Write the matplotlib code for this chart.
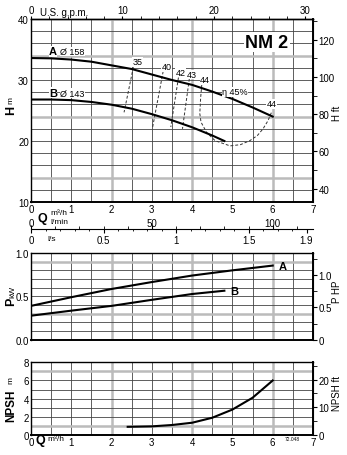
import numpy as np
import matplotlib
matplotlib.use("Agg")
import matplotlib.pyplot as plt
from matplotlib.ticker import MultipleLocator, FixedLocator, NullFormatter

plt.rcParams['font.family'] = ['Liberation Sans', 'DejaVu Sans']
plt.rcParams['font.size'] = 7

# head curves (Q m3/h, H m)
qa = [0, 0.5, 1, 1.5, 2, 2.5, 3, 3.5, 4, 4.5, 5, 5.5, 6]
ha = [33.6, 33.55, 33.35, 33.0, 32.4, 31.8, 30.9, 30.0, 29.2, 28.1, 26.9, 25.5, 24.0]
qb = [0, 0.5, 1, 1.5, 2, 2.5, 3, 3.5, 4, 4.5, 4.8]
hb = [26.8, 26.8, 26.7, 26.4, 25.95, 25.3, 24.4, 23.4, 22.25, 20.9, 20.0]

# efficiency iso-lines
eff_labels = ['35', '40', '42', '43']
eff_q = [[2.54, 2.31], [3.28, 3.02], [3.66, 3.47], [3.93, 3.76]]
eff_h = [[32.1, 24.7], [31.4, 22.3], [30.4, 22.3], [30.2, 22.0]]
eff_lab_q = [2.65, 3.37, 3.72, 3.99]
eff_lab_h = [33.0, 32.2, 31.3, 30.9]
loop_q = [4.24, 4.21, 4.19, 4.22, 4.36, 4.57, 4.94, 5.2, 5.43, 5.62, 5.76, 5.88, 5.97]
loop_h = [29.3, 27.0, 24.5, 23.1, 21.4, 20.05, 19.2, 19.4, 20.05, 20.9, 22.0, 23.3, 24.7]

# power curves (kW)
qpa = [0, 1, 2, 3, 4, 5, 6]
pa = [0.39, 0.49, 0.585, 0.665, 0.74, 0.80, 0.855]
qpb = [0, 1, 2, 3, 4, 4.8]
pb = [0.277, 0.335, 0.39, 0.46, 0.527, 0.565]

# NPSH curve
qn = [2.4, 3, 3.5, 4, 4.5, 5, 5.5, 6]
npsh = [0.9, 0.95, 1.1, 1.35, 1.9, 2.8, 4.1, 6.0]

W, H = 347, 456
fig = plt.figure(figsize=(W / 100, H / 100), dpi=100)


def box(left, top, right, bottom):
    return [left / W, 1 - bottom / H, (right - left) / W, (bottom - top) / H]


grid_c = '#444444'
accent = '#bbbbbb'


def setup(ax, ylim, ystep, yacc):
    ax.set_xlim(0, 7)
    ax.set_ylim(*ylim)
    for q in np.arange(0.5, 7, 0.5):
        if q in (2, 4, 6):
            ax.axvline(q, color=accent, lw=1.8, zorder=1)
        else:
            ax.axvline(q, color=grid_c, lw=0.6, zorder=1)
    for y in np.arange(ylim[0] + ystep, ylim[1] - 1e-9, ystep):
        if any(abs(y - a) < 1e-6 for a in yacc):
            ax.axhline(y, color=accent, lw=1.8, zorder=1)
        else:
            ax.axhline(y, color=grid_c, lw=0.6, zorder=1)
    for s in ax.spines.values():
        s.set_linewidth(1.0)
    ax.spines['right'].set_linewidth(1.4)
    ax.spines['bottom'].set_linewidth(1.4)
    ax.tick_params(axis='both', length=0, pad=1.5, labelsize=7)


# --- head ---
ax1 = fig.add_axes(box(31, 20, 313, 203))
setup(ax1, (10, 40), 2, [14, 24, 34])
ax1.set_yticks([10, 20, 30, 40])
ax1.set_xticks(range(8))
ax1.plot(qa, ha, color='black', lw=1.5, zorder=3)
ax1.plot(qb, hb, color='black', lw=1.5, zorder=3)
for lab, q, h, lq, lh in zip(eff_labels, eff_q, eff_h, eff_lab_q, eff_lab_h):
    ax1.plot(q, h, color='#333333', lw=0.7, ls=(0, (3, 2)), zorder=2)
    ax1.text(lq, lh, lab, fontsize=6.5, ha='center', va='center', zorder=4,
             bbox=dict(fc='white', ec='none', pad=0.3))
ax1.plot(loop_q, loop_h, color='#333333', lw=0.7, ls=(0, (3, 2)), zorder=2)
ax1.text(4.32, 30.05, '44', fontsize=6.5, ha='center', va='center', zorder=4,
         bbox=dict(fc='white', ec='none', pad=0.3))
ax1.text(5.97, 26.1, '44', fontsize=6.5, ha='center', va='center', zorder=4,
         bbox=dict(fc='white', ec='none', pad=0.3))
ax1.plot([5.0, 5.03], [26.9, 27.6], color='#333333', lw=0.7, zorder=2)
ax1.text(5.06, 28.1, 'η 45%', fontsize=6.5, ha='center', va='center', zorder=4,
         bbox=dict(fc='white', ec='none', pad=0.3))
ax1.text(0.55, 33.9, 'A', fontsize=8, fontweight='bold', ha='center', va='bottom', zorder=4,
         bbox=dict(fc='white', ec='none', pad=0.2))
ax1.text(0.72, 33.9, 'Ø 158', fontsize=6.5, ha='left', va='bottom', zorder=4,
         bbox=dict(fc='white', ec='none', pad=0.2))
ax1.text(0.55, 27.1, 'B', fontsize=8, fontweight='bold', ha='center', va='bottom', zorder=4,
         bbox=dict(fc='white', ec='none', pad=0.2))
ax1.text(0.72, 27.1, 'Ø 143', fontsize=6.5, ha='left', va='bottom', zorder=4,
         bbox=dict(fc='white', ec='none', pad=0.2))
ax1.text(5.85, 36.2, 'NM 2', fontsize=13, fontweight='bold', ha='center', va='center', zorder=4,
         bbox=dict(fc='white', ec='none', pad=1))

gpm = ax1.secondary_xaxis('top', functions=(lambda q: q * 4.403, lambda g: g / 4.403))
gpm.set_xticks([0, 10, 20, 30])
gpm.xaxis.set_minor_locator(MultipleLocator(2))
gpm.tick_params(which='major', length=2, pad=1, labelsize=7)
gpm.tick_params(which='minor', length=2)
gpm.spines['top'].set_linewidth(1.0)

hft = ax1.secondary_yaxis('right', functions=(lambda m: m * 3.2808, lambda f: f / 3.2808))
hft.set_yticks([40, 60, 80, 100, 120])
hft.yaxis.set_minor_locator(MultipleLocator(10))
hft.tick_params(which='major', length=3, pad=1, labelsize=7)
hft.tick_params(which='minor', length=3)

fig.text(40 / W, 1 - 12.5 / H, 'U.S. g.p.m.', fontsize=7, ha='left', va='center')
fig.text(11 / W, 1 - 110 / H, 'H', fontsize=9, fontweight='bold', rotation=90, ha='center', va='center')
fig.text(11 / W, 1 - 100 / H, 'm', fontsize=6, rotation=90, ha='center', va='center')
fig.text(337 / W, 1 - 113 / H, 'H ft', fontsize=7, rotation=90, ha='center', va='center')

# Q axis labels under head plot
fig.text(42 / W, 1 - 219 / H, 'Q', fontsize=9, fontweight='bold', ha='center', va='center')
fig.text(50 / W, 1 - 213.5 / H, 'm³/h', fontsize=6, ha='left', va='center')
fig.text(50 / W, 1 - 222 / H, 'l/min', fontsize=6, ha='left', va='center')

# l/min and l/s scale
axf = fig.add_axes(box(31, 229, 313, 230))
axf.set_xlim(0, 7)
axf.set_ylim(0, 1)
axf.patch.set_visible(False)
for s in ['top', 'left', 'right']:
    axf.spines[s].set_visible(False)
axf.spines['bottom'].set_linewidth(0.8)
axf.set_yticks([])
ls_major = [0, 0.5, 1, 1.5, 1.9]
axf.set_xticks([v * 3.6 for v in ls_major])
axf.set_xticklabels(['0', '0.5', '1', '1.5', '1.9'])
axf.xaxis.set_minor_locator(FixedLocator([v * 3.6 for v in np.arange(0.1, 1.9, 0.1)]))
axf.tick_params(which='major', length=3, pad=1, labelsize=7)
axf.tick_params(which='minor', length=1.5)
lmin = axf.secondary_xaxis('bottom', functions=(lambda q: q * 1000 / 60, lambda l: l * 60 / 1000))
lmin.set_xticks([0, 50, 100])
lmin.xaxis.set_minor_locator(MultipleLocator(10))
lmin.tick_params(which='major', direction='in', length=3, pad=-8, labelsize=7)
lmin.tick_params(which='minor', direction='in', length=2)
lmin.spines['bottom'].set_visible(False)
fig.text(47 / W, 1 - 240 / H, 'l/s', fontsize=6, ha='left', va='center')

# --- power ---
ax2 = fig.add_axes(box(31, 254, 313, 340.7))
setup(ax2, (0, 1.0), 0.1, [0.3, 0.9])
ax2.set_yticks([0, 0.5, 1.0])
ax2.set_yticklabels(['0.0', '0.5', '1.0'])
ax2.set_xticks(range(8))
ax2.set_xticklabels([])
ax2.plot(qpa, pa, color='black', lw=1.5, zorder=3)
ax2.plot(qpb, pb, color='black', lw=1.5, zorder=3)
ax2.text(6.15, 0.855, 'A', fontsize=8, fontweight='bold', ha='left', va='center')
ax2.text(4.95, 0.565, 'B', fontsize=8, fontweight='bold', ha='left', va='center')
php = ax2.secondary_yaxis('right', functions=(lambda k: k / 0.7457, lambda h: h * 0.7457))
php.set_yticks([0, 0.5, 1.0])
php.set_yticklabels(['0', '0.5', '1.0'])
php.yaxis.set_minor_locator(MultipleLocator(0.25))
php.tick_params(which='major', length=3, pad=1, labelsize=7)
php.tick_params(which='minor', length=3)
fig.text(11 / W, 1 - 302 / H, 'P', fontsize=9, fontweight='bold', rotation=90, ha='center', va='center')
fig.text(13 / W, 1 - 292 / H, 'kW', fontsize=6, rotation=90, ha='center', va='center')
fig.text(337 / W, 1 - 292 / H, 'P HP', fontsize=7, rotation=90, ha='center', va='center')

# --- NPSH ---
ax3 = fig.add_axes(box(31, 363.3, 313, 436))
setup(ax3, (0, 8), 1, [1, 7])
ax3.set_yticks([0, 2, 4, 6, 8])
ax3.set_xticks(range(8))
ax3.plot(qn, npsh, color='black', lw=1.5, zorder=3)
nft = ax3.secondary_yaxis('right', functions=(lambda m: m * 3.2808, lambda f: f / 3.2808))
nft.set_yticks([0, 10, 20])
nft.yaxis.set_minor_locator(MultipleLocator(5))
nft.tick_params(which='major', length=3, pad=1, labelsize=7)
nft.tick_params(which='minor', length=3)
fig.text(11 / W, 1 - 406 / H, 'NPSH', fontsize=8.5, fontweight='bold', rotation=90, ha='center', va='center')
fig.text(11 / W, 1 - 381 / H, 'm', fontsize=6, rotation=90, ha='center', va='center')
fig.text(337 / W, 1 - 394 / H, 'NPSH ft', fontsize=7, rotation=90, ha='center', va='center')
fig.text(40 / W, 1 - 441 / H, 'Q', fontsize=9, fontweight='bold', ha='center', va='center')
fig.text(47 / W, 1 - 440 / H, 'm³/h', fontsize=6, ha='left', va='center')
fig.text(292 / W, 1 - 440 / H, '72.048', fontsize=3.5, ha='center', va='center')

fig.savefig('out.png', dpi=100)
